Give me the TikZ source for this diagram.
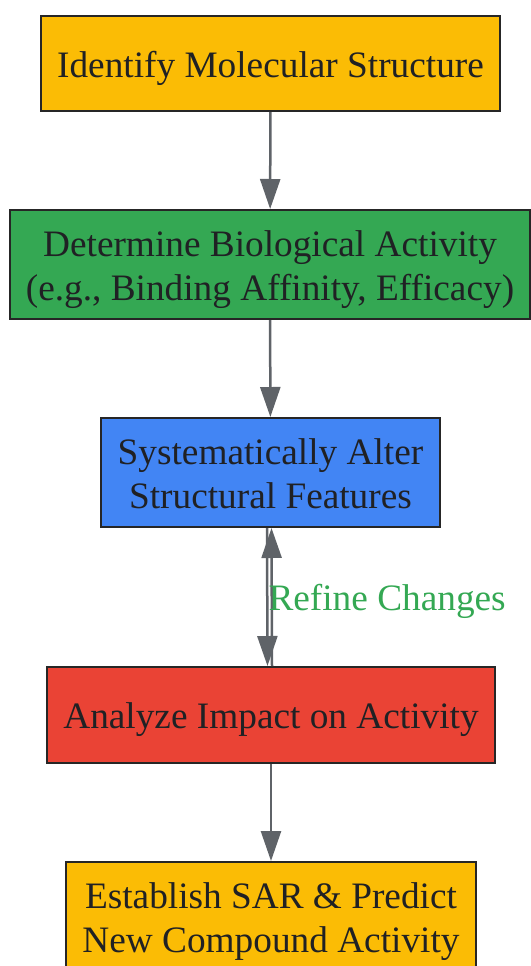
\documentclass[tikz,border=0pt]{standalone}
\usepackage{fontspec}
\setmainfont{Liberation Serif}
\usetikzlibrary{arrows.meta}
\definecolor{sarYellow}{HTML}{FBBC05}
\definecolor{sarGreen}{HTML}{34A853}
\definecolor{sarBlue}{HTML}{4285F4}
\definecolor{sarRed}{HTML}{EA4335}
\definecolor{arrowGray}{HTML}{5F6368}
\definecolor{boxLine}{HTML}{262626}
\definecolor{textDark}{HTML}{202124}
% lower the text a little inside its box, keeping the box size
\newcommand{\boxtext}[1]{\raisebox{-5pt}[\height][\depth]{\begin{tabular}{@{}c@{}}#1\end{tabular}}}
\begin{document}
\begin{tikzpicture}[x=1pt,y=-1pt,
	box/.style={draw=boxLine, line width=2pt, text=textDark, inner sep=0pt,
		font=\fontsize{37.3}{44}\selectfont},
	flow/.style={draw=arrowGray, line width=2.5pt, -{Triangle[length=30pt,width=20pt]}}]
		\useasboundingbox (0,0) rectangle (530,966);
		\node[box, fill=sarYellow, minimum width=459pt, minimum height=95pt] (identify) at (270.5,63.5) {\boxtext{Identify Molecular Structure}};
		\node[box, fill=sarGreen, minimum width=520pt, minimum height=109pt] (activity) at (270,264.5) {\boxtext{Determine Biological Activity\\(e.g., Binding Affinity, Efficacy)}};
		\node[box, fill=sarBlue, minimum width=339pt, minimum height=109pt] (alter) at (270.5,472.5) {\boxtext{Systematically Alter\\Structural Features}};
		\node[box, fill=sarRed, minimum width=448pt, minimum height=96pt] (analyze) at (271,715) {\boxtext{Analyze Impact on Activity}};
		\node[box, fill=sarYellow, minimum width=410pt, minimum height=109pt] (establish) at (271,916.5) {\boxtext{Establish SAR \& Predict\\New Compound Activity}};
		\draw[flow] (identify) -- (activity);
		\draw[flow] (activity) -- (alter);
		\draw[flow] ([xshift=-3.5pt]alter.south) -- ([xshift=-3.5pt]analyze.north);
		\draw[flow] ([xshift=1pt]analyze.north) -- ([xshift=1pt]alter.south)
			node[midway, anchor=west, inner sep=0pt, xshift=-4.5pt, yshift=-4pt, text=sarGreen, font=\fontsize{37.3}{44}\selectfont] (refine) {Refine Changes};
		\draw[flow] (analyze) -- (establish);
	\end{tikzpicture}
\end{document}
